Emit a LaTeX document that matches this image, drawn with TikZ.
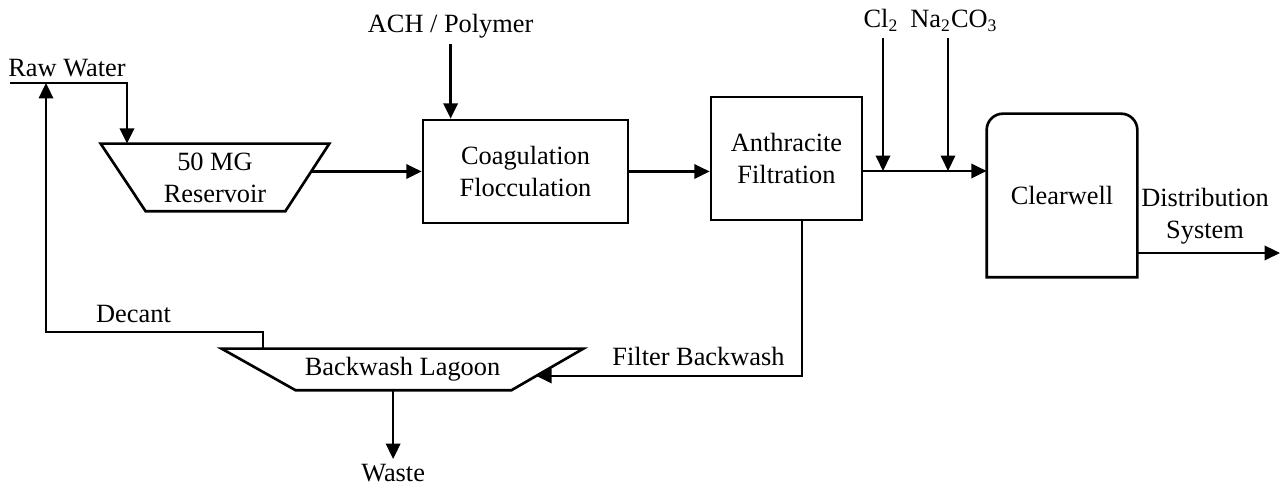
\documentclass[tikz,border=0pt,12pt]{standalone}
\usepackage{fontspec}
\setmainfont{Liberation Serif}
\usetikzlibrary{arrows.meta}
\tikzset{box/.style={draw, align=center},
         tank/.style={align=center, inner sep=0pt},
         lbl/.style={inner sep=2pt}}

\begin{document}
\begin{tikzpicture}[very thick, >={Triangle[length=7pt,width=6.5pt]}]
\useasboundingbox (0,0) rectangle (20.576,7.872);
% process units
\node [tank, minimum width=3.616cm, minimum height=1.04cm] (res) at (3.44,5.032) {50 MG\\Reservoir};
\draw (res.north west) -- (res.north east) -- ([xshift=-0.704cm]res.south east) -- ([xshift=0.72cm]res.south west) -- cycle;
\node [box, minimum width=3.28cm, minimum height=1.648cm] (coag) at (8.408,5.128) {Coagulation\\Flocculation};
\node [box, minimum width=2.416cm, minimum height=1.968cm] (anth) at (12.584,5.336) {Anthracite\\Filtration};
\node [minimum width=2.368cm, minimum height=2.576cm] (clear) at (16.992,4.744) {Clearwell};
\draw (clear.south west) -- ([yshift=-0.26cm]clear.north west) arc (180:90:0.26cm) -- ([xshift=-0.26cm]clear.north east) arc (90:0:0.26cm) -- (clear.south east) -- cycle;
\node [tank, minimum width=5.744cm, minimum height=0.624cm] (lag) at (6.44,1.96) {Backwash Lagoon};
\draw (lag.north west) -- (lag.north east) -- ([xshift=-1.152cm]lag.south east) -- ([xshift=1.184cm]lag.south west) -- cycle;
% labels
\node [lbl, anchor=base] (raw) at (1.072,6.64) {Raw Water};
\node [lbl, anchor=base] (ach) at (7.21,7.344) {ACH / Polymer};
\node [lbl, anchor=base] (cl) at (14.096,7.424) {Cl\textsubscript{2}};
\node [lbl, anchor=base] (na) at (15.264,7.424) {Na\textsubscript{2}CO\textsubscript{3}};
\node [lbl, align=center] (dist) at (19.28,4.416) {Distribution\\System};
\node [lbl, anchor=base] (decant) at (2.136,2.704) {Decant};
\node [lbl, anchor=base] (fbw) at (11.176,2.016) {Filter Backwash};
\node [lbl, anchor=base] (waste) at (6.29,0.16) {Waste};
% bends and joints
\coordinate (rwin) at (0.16,6.544);
\coordinate (rwbend) at (2.032,6.544);
\coordinate (rwjoin) at (0.736,6.544);
\coordinate (dbend) at (4.208,2.56);
\coordinate (cljoin) at (14.128,5.136);
\coordinate (najoin) at (15.168,5.136);
\coordinate (bwbend) at (12.832,1.856);
\coordinate (out) at (20.48,3.824);
% flows
\draw [->] (rwin) -- (rwbend) -- (rwbend |- res.north);
\draw [->] ([xshift=-0.288cm]res.east |- coag.west) -- (coag.west);
\draw [->] (ach.south) -- (ach.south |- coag.north);
\draw [->] (coag.east) -- (coag.east -| anth.west);
\draw [->] (cljoin -| anth.east) -- (cljoin -| clear.west);
\draw [->] (cljoin |- cl.south) -- (cljoin);
\draw [->] (najoin |- na.south) -- (najoin);
\draw [->] (out -| clear.east) -- (out);
\draw [->] (bwbend |- anth.south) -- (bwbend) -- ([xshift=-0.752cm]lag.east |- bwbend);
\draw [->] (dbend |- lag.north) -- (dbend) -| (rwjoin);
\draw [->] (lag.south -| waste.north) -- (waste.north);
\end{tikzpicture}
\end{document}
